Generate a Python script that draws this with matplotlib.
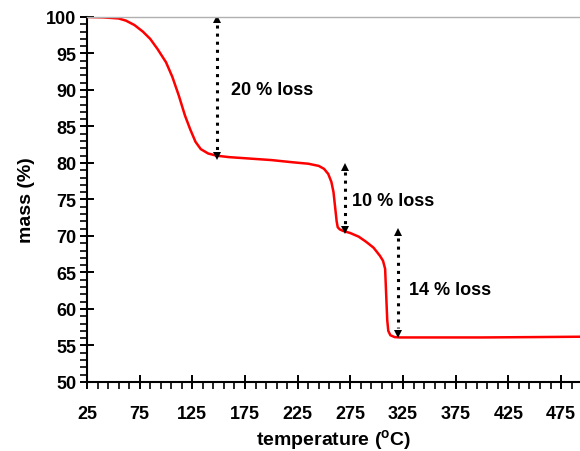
import matplotlib.pyplot as plt
from matplotlib.ticker import MultipleLocator

plt.rcParams['font.family'] = 'Liberation Sans'
plt.rcParams['font.weight'] = 'bold'
plt.rcParams['mathtext.fontset'] = 'custom'
plt.rcParams['mathtext.rm'] = 'Liberation Sans:bold'
plt.rcParams['mathtext.bf'] = 'Liberation Sans:bold'

# TGA trace: temperature (C) vs remaining mass (%)
temperature = [25, 40, 55, 62, 70, 78, 85, 92, 100, 106, 112, 118, 123, 128, 133,
               140, 148, 160, 180, 200, 220, 235, 245, 250, 254, 257, 259, 260.5,
               262, 263, 265, 268, 275, 283, 290, 297, 303, 306, 308, 309, 310,
               311, 313, 317, 322, 350, 400, 450, 493]
mass = [100, 99.95, 99.8, 99.5, 98.9, 98.0, 97.0, 95.6, 93.8, 91.8, 89.3, 86.5, 84.6,
        82.9, 81.9, 81.3, 81.0, 80.8, 80.6, 80.4, 80.1, 79.9, 79.6, 79.2, 78.5, 77.4,
        76.0, 74.0, 72.0, 71.2, 70.9, 70.7, 70.4, 69.9, 69.2, 68.4, 67.3, 66.6, 65.5,
        62.0, 58.5, 57.0, 56.4, 56.15, 56.1, 56.1, 56.1, 56.15, 56.2]

x_ticks = [25, 75, 125, 175, 225, 275, 325, 375, 425, 475]

# loss steps: arrow x, top, bottom, label position
step_x = [148.5, 270, 320]
step_top = [99.7, 79.5, 70.5]
step_bottom = [81.0, 70.8, 56.6]
step_labels = ['20 % loss', '10 % loss', '14 % loss']
label_x = [162, 277, 331]
label_y = [90.1, 74.8, 62.7]

fig = plt.figure(figsize=(5.8, 4.52), dpi=100)
ax = fig.add_axes([0.15, 0.1527, 0.85, 0.8075])

ax.plot(temperature, mass, color='#ff0000', lw=1.8)

for x, t, b, lab, lx, ly in zip(step_x, step_top, step_bottom, step_labels, label_x, label_y):
    ax.plot([x, x], [t - 0.8, b + 0.8], color='black', ls=':', lw=2.2)
    ax.plot([x], [t], marker='^', color='black', ms=6, mew=0)
    ax.plot([x], [b], marker='v', color='black', ms=6, mew=0)
    ax.text(lx, ly, lab, fontsize=13, fontweight='bold', va='center', ha='left')

ax.set_xlim(25, 493)
ax.set_ylim(50, 100)
ax.set_xticks(x_ticks)
ax.xaxis.set_minor_locator(MultipleLocator(10, offset=5))
ax.yaxis.set_major_locator(MultipleLocator(5))
ax.yaxis.set_minor_locator(MultipleLocator(1))

ax.spines['right'].set_visible(False)
ax.spines['top'].set_color('#b0b0b0')
ax.spines['top'].set_linewidth(1)
ax.spines['left'].set_linewidth(1.5)
ax.spines['bottom'].set_linewidth(1.5)

ax.tick_params(which='major', direction='inout', length=9.4, width=1.4,
               labelsize=13, top=False, right=False)
ax.tick_params(which='minor', direction='out', length=4.7, width=1.2,
               top=False, right=False)
ax.tick_params(axis='x', which='major', pad=12)
ax.tick_params(axis='y', which='major', pad=3)

ax.set_xlabel(r'temperature ($^{\mathbf{o}}$C)', fontsize=14, fontweight='bold', labelpad=4)
ax.set_ylabel('mass (%)', fontsize=14, fontweight='bold', labelpad=8)

fig.savefig('out.png', dpi=100)
